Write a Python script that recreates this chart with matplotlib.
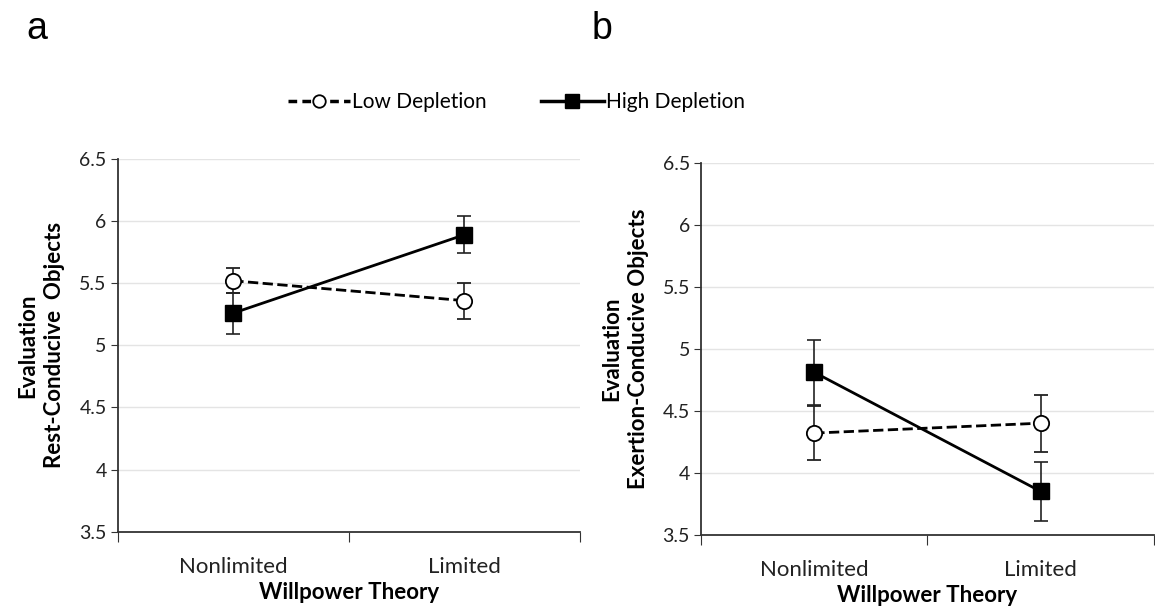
import matplotlib.pyplot as plt
from matplotlib.lines import Line2D
import numpy as np

plt.rcParams['font.family'] = ['Lato', 'DejaVu Sans']

categories = ['Nonlimited', 'Limited']
yticks = [3.5, 4, 4.5, 5, 5.5, 6, 6.5]

# panel a: rest-conducive objects
rest_low = [5.52, 5.36]
rest_low_err = [0.10, 0.145]
rest_high = [5.26, 5.89]
rest_high_err = [0.165, 0.15]

# panel b: exertion-conducive objects
exert_low = [4.32, 4.40]
exert_low_err = [0.215, 0.23]
exert_high = [4.81, 3.85]
exert_high_err = [0.26, 0.24]

fig = plt.figure(figsize=(11.55, 6.14), dpi=100)
ax1 = fig.add_axes([0.102, 0.134, 0.400, 0.607])
ax2 = fig.add_axes([0.607, 0.129, 0.392, 0.606])


def draw_panel(ax, low, low_err, high, high_err, ylabel):
    x = np.arange(len(categories)) + 0.5
    ax.errorbar(x, low, yerr=low_err, color='black', ls='--', lw=2,
                marker='o', ms=11, mfc='white', mec='black', mew=1.3,
                ecolor='#222222', elinewidth=1.2, capsize=5, capthick=1.2, zorder=3)
    ax.errorbar(x, high, yerr=high_err, color='black', ls='-', lw=2,
                marker='s', ms=12, mfc='black', mec='black',
                ecolor='#222222', elinewidth=1.2, capsize=5, capthick=1.2, zorder=4)
    ax.set_xlim(0, 2)
    ax.set_ylim(3.5, 6.5)
    ax.set_yticks(yticks)
    ax.set_yticklabels([f'{v:g}' for v in yticks], fontsize=14, color='#222222')
    ax.set_xticks([0, 1, 2])
    ax.set_xticklabels([])
    ax.set_xticks(x, minor=True)
    ax.set_xticklabels(categories, minor=True, fontsize=16, color='#222222')
    ax.tick_params(axis='x', which='minor', length=0, pad=18)
    ax.tick_params(axis='x', which='major', length=7, direction='out', color='#333333')
    ax.tick_params(axis='y', length=5, direction='out', color='#333333', pad=3)
    ax.grid(axis='y', color='#e4e4e4', lw=1)
    ax.set_axisbelow(True)
    for s in ['top', 'right']:
        ax.spines[s].set_visible(False)
    for s in ['left', 'bottom']:
        ax.spines[s].set_color('#333333')
        ax.spines[s].set_linewidth(1.3)
    ax.set_xlabel('Willpower Theory', fontsize=16, fontweight='bold', labelpad=4)
    ax.set_ylabel(ylabel, fontsize=16, fontweight='bold', labelpad=10, linespacing=1.35)


draw_panel(ax1, rest_low, rest_low_err, rest_high, rest_high_err,
           'Evaluation\nRest-Conducive  Objects')
draw_panel(ax2, exert_low, exert_low_err, exert_high, exert_high_err,
           'Evaluation\nExertion-Conducive Objects')

fig.text(0.023, 0.953, 'a', fontsize=27, va='center', family='Liberation Sans')
fig.text(0.512, 0.953, 'b', fontsize=27, va='center', family='Liberation Sans')

handles = [
    Line2D([], [], color='black', ls=(0, (2.5, 1.5)), lw=2.5, marker='o', ms=9,
           mfc='white', mew=1.3),
    Line2D([], [], color='black', ls='-', lw=2.5, marker='s', ms=10, mfc='black'),
]
fig.legend(handles, ['Low Depletion', 'High Depletion'], loc='center',
           bbox_to_anchor=(0.447, 0.834), ncol=2, frameon=False,
           handlelength=3.0, handletextpad=0.1, columnspacing=2.6,
           prop={'family': 'Lato', 'size': 15})

fig.savefig('out.png', dpi=100, facecolor='white')
